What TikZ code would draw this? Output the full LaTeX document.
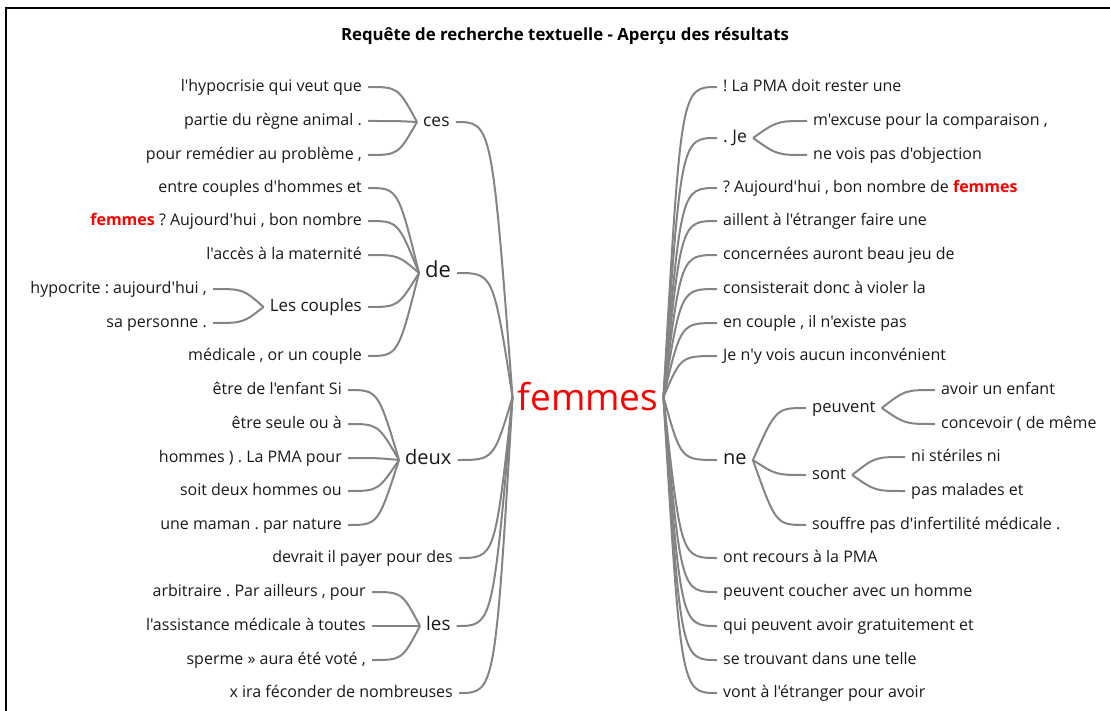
\documentclass[tikz,border=0pt]{standalone}
\usepackage{fontspec}
\setmainfont{Open Sans}
\newfontfamily\osans{Open Sans}
\usepackage{xcolor}
\usetikzlibrary{calc}

\definecolor{linkgray}{RGB}{132,132,132}
\definecolor{hitred}{RGB}{255,0,0}
\definecolor{textblack}{RGB}{25,25,25}
\newcommand{\hit}{\textcolor{hitred}{\textbf{femmes}}}
\frenchspacing

\begin{document}
\begin{tikzpicture}[x=1pt,y=-1pt,
    leaf/.style={font=\osans\fontsize{16}{18}\selectfont,text=textblack,inner xsep=6pt,inner ysep=0pt,text height=11.5pt,text depth=3pt},
    hub/.style={leaf,font=\osans\fontsize{#1}{22}\selectfont},
    link/.style={draw=linkgray,line width=2pt}]
    \useasboundingbox (0,0) rectangle (1110,711);
    % cadre
    \draw[line width=2pt,black] (6,711) -- (6,8) -- (1110,8);
    \node[font=\osans\bfseries\fontsize{16.8}{18}\selectfont] (titre) at (565,36) {Requête de recherche textuelle - Aperçu des résultats};

    % mot central
    \node[font=\osans\fontsize{37}{40}\selectfont,text=hitred,inner xsep=5pt] (femmes) at (588,397) {femmes};

    % ---- contexte gauche ----
    \node[hub=17.4,anchor=west] (ces) at (417,122) {ces};
    \node[leaf,anchor=east] (ces1) at (368,87) {l'hypocrisie qui veut que};
    \node[leaf,anchor=east] (ces2) at (368,121) {partie du règne animal .};
    \node[leaf,anchor=east] (ces3) at (368,155) {pour remédier au problème ,};

    \node[hub=22,anchor=west] (de) at (419,273) {de};
    \node[leaf,anchor=east] (de1) at (368,188) {entre couples d'hommes et};
    \node[leaf,anchor=east] (de2) at (368,221) {\hit{} ? Aujourd'hui , bon nombre};
    \node[leaf,anchor=east] (de3) at (368,255) {l'accès à la maternité};
    \node[hub=17,anchor=east] (couples) at (368,307) {Les couples};
    \node[leaf,anchor=east] (couples1) at (213,289) {hypocrite : aujourd'hui ,};
    \node[leaf,anchor=east] (couples2) at (213,323) {sa personne .};
    \node[leaf,anchor=east] (de5) at (368,356) {médicale , or un couple};

    \node[hub=20,anchor=west] (deux) at (399,460) {deux};
    \node[leaf,anchor=east] (deux1) at (348,390) {être de l'enfant Si};
    \node[leaf,anchor=east] (deux2) at (348,424) {être seule ou à};
    \node[leaf,anchor=east] (deux3) at (348,458) {hommes ) . La PMA pour};
    \node[leaf,anchor=east] (deux4) at (348,491) {soit deux hommes ou};
    \node[leaf,anchor=east] (deux5) at (348,525) {une maman . par nature};

    \node[leaf,anchor=east] (devrait) at (459,558) {devrait il payer pour des};

    \node[hub=18.8,anchor=west] (les) at (420,626) {les};
    \node[leaf,anchor=east] (les1) at (372,592) {arbitraire . Par ailleurs , pour};
    \node[leaf,anchor=east] (les2) at (372,626) {l'assistance médicale à toutes};
    \node[leaf,anchor=east] (les3) at (372,660) {sperme » aura été voté ,};

    \node[leaf,anchor=east] (xira) at (459,693) {x ira féconder de nombreuses};

    % ---- contexte droit ----
    \node[leaf,anchor=west] (r1) at (717,87) {! La PMA doit rester une};
    \node[hub=17.5,anchor=west] (je) at (717,138) {. Je};
    \node[leaf,anchor=west] (je1) at (807,121) {m'excuse pour la comparaison ,};
    \node[leaf,anchor=west] (je2) at (807,155) {ne vois pas d'objection};
    \node[leaf,anchor=west] (r3) at (717,188) {? Aujourd'hui , bon nombre de \hit};
    \node[leaf,anchor=west] (r4) at (717,221) {aillent à l'étranger faire une};
    \node[leaf,anchor=west] (r5) at (717,255) {concernées auront beau jeu de};
    \node[leaf,anchor=west] (r6) at (717,289) {consisterait donc à violer la};
    \node[leaf,anchor=west] (r7) at (717,323) {en couple , il n'existe pas};
    \node[leaf,anchor=west] (r8) at (717,356) {Je n'y vois aucun inconvénient};

    \node[hub=20,anchor=west] (ne) at (717,460) {ne};
    \node[hub=16.6,anchor=west] (peuvent) at (806,408) {peuvent};
    \node[leaf,anchor=west] (peuvent1) at (935,390) {avoir un enfant};
    \node[leaf,anchor=west] (peuvent2) at (935,424) {concevoir ( de même};
    \node[hub=16.5,anchor=west] (sont) at (806,475) {sont};
    \node[leaf,anchor=west] (sont1) at (905,457) {ni stériles ni};
    \node[leaf,anchor=west] (sont2) at (905,491) {pas malades et};
    \node[leaf,anchor=west] (souffre) at (806,525) {souffre pas d'infertilité médicale .};

    \node[leaf,anchor=west] (r10) at (717,558) {ont recours à la PMA};
    \node[leaf,anchor=west] (r11) at (717,592) {peuvent coucher avec un homme};
    \node[leaf,anchor=west] (r12) at (717,626) {qui peuvent avoir gratuitement et};
    \node[leaf,anchor=west] (r13) at (717,660) {se trouvant dans une telle};
    \node[leaf,anchor=west] (r14) at (717,693) {vont à l'étranger pour avoir};

    % ---- branches ----
    \foreach \c in {ces,de,deux,devrait,les,xira}
      \draw[link] (\c.east) .. controls +(36,0) .. (femmes.west);
    \foreach \c in {r1,je,r3,r4,r5,r6,r7,r8,ne,r10,r11,r12,r13,r14}
      \draw[link] (\c.west) .. controls +(-36,0) .. (femmes.east);
    \foreach \p/\c in {ces/ces1,ces/ces2,ces/ces3,de/de1,de/de2,de/de3,de/couples,de/de5,
        couples/couples1,couples/couples2,deux/deux1,deux/deux2,deux/deux3,deux/deux4,deux/deux5,
        les/les1,les/les2,les/les3}
      \draw[link] (\c.east) .. controls +(30,0) .. (\p.west);
    \foreach \p/\c in {je/je1,je/je2,ne/peuvent,ne/sont,ne/souffre,
        peuvent/peuvent1,peuvent/peuvent2,sont/sont1,sont/sont2}
      \draw[link] (\c.west) .. controls +(-30,0) .. (\p.east);
\end{tikzpicture}
\end{document}
